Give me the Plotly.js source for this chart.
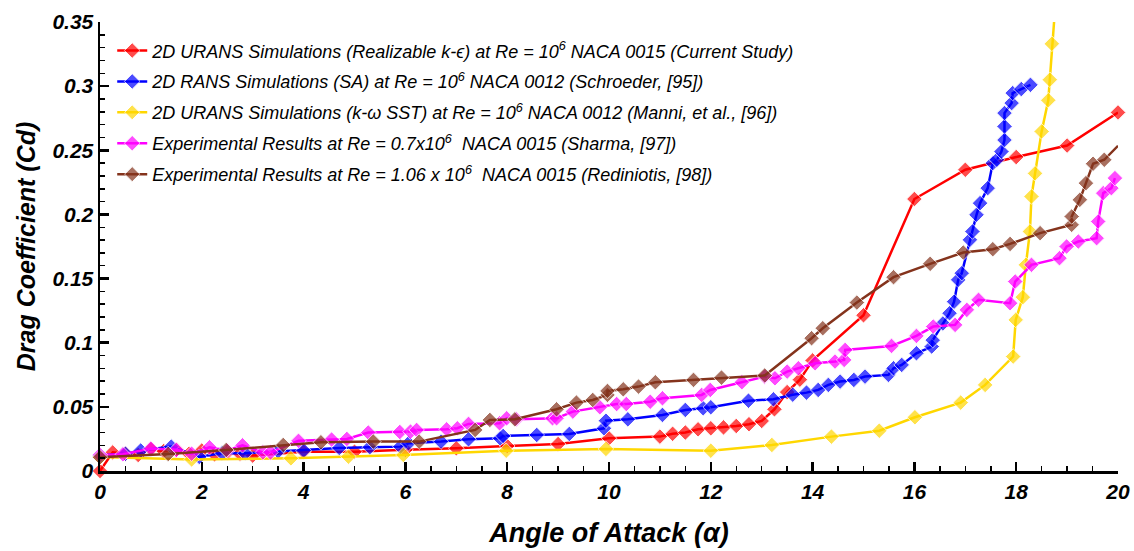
<!DOCTYPE html>
<html><head><meta charset="utf-8">
<script src="https://cdn.plot.ly/plotly-3.0.1.min.js"></script>
<style>body{margin:0;background:#fff}#c{width:1134px;height:551px}</style>
</head><body><div id="c"></div>
<script>
const names = [
  "2D URANS Simulations (Realizable k-ϵ) at Re = 10<sup>6</sup> NACA 0015 (Current Study)",
  "2D RANS Simulations (SA) at Re = 10<sup>6</sup> NACA 0012 (Schroeder, [95])",
  "2D URANS Simulations (k-ω SST) at Re = 10<sup>6</sup> NACA 0012 (Manni, et al., [96])",
  "Experimental Results at Re = 0.7x10<sup>6</sup>  NACA 0015 (Sharma, [97])",
  "Experimental Results at Re = 1.06 x 10<sup>6</sup>  NACA 0015 (Rediniotis, [98])"
];
const colors = ["#ff0000", "#0000ff", "#ffd700", "#ff00ff", "#84331c"];

const redX = [0,0.25,0.5,0.75,1.0,1.25,1.5,1.75,2.0,2.25,2.5,2.75,3,4,5,6,7,8,9,10,11,11.25,11.5,11.75,12,12.25,12.5,12.75,13,13.25,13.5,13.75,14,15,16,17,18,19,20];
const redY = [0,0.0145,0.0135,0.0125,0.017,0.0155,0.0165,0.0135,0.016,0.013,0.0145,0.0135,0.012,0.015,0.015,0.0165,0.0177,0.0195,0.021,0.0255,0.0268,0.029,0.030,0.0325,0.0333,0.034,0.0351,0.0365,0.039,0.0481,0.0615,0.0712,0.0862,0.1214,0.212,0.2348,0.2447,0.2537,0.2795];

const blueX = [0,0.5,0.8,1.4,1.95,2.4,2.85,3.5,4.0,4.7,5.3,5.9,6.06,6.7,7.24,7.86,7.92,8.58,9.22,9.9,9.94,10.37,11.05,11.5,11.85,12.0,12.74,13.23,13.61,13.88,14.11,14.31,14.54,14.81,15.03,15.49,15.59,15.75,16.04,16.34,16.36,16.56,16.69,16.78,16.86,16.93,17.09,17.14,17.22,17.29,17.44,17.54,17.62,17.71,17.77,17.77,17.77,17.91,17.93,18.1,18.28];
const blueY = [0.012,0.0135,0.016,0.019,0.011,0.014,0.0138,0.0153,0.016,0.018,0.0185,0.019,0.0216,0.0229,0.0247,0.0255,0.0273,0.0281,0.0289,0.0333,0.0392,0.0403,0.0437,0.0476,0.0489,0.0497,0.0548,0.0559,0.0595,0.0611,0.0632,0.0671,0.0697,0.071,0.0736,0.0749,0.0801,0.0827,0.0918,0.097,0.102,0.115,0.123,0.132,0.149,0.1542,0.1802,0.1867,0.1997,0.2088,0.2205,0.24,0.2426,0.249,0.258,0.2686,0.279,0.2868,0.2946,0.2977,0.301];

const yelX = [0,1.8,3.75,4.88,5.96,7.98,9.94,12.0,13.2,14.37,15.31,16.01,16.91,17.39,17.94,17.99,18.13,18.19,18.27,18.3,18.37,18.5,18.63,18.66,18.7,18.8];
const yelY = [0.011,0.009,0.0099,0.0112,0.0125,0.0158,0.0172,0.0158,0.0203,0.0268,0.0314,0.0419,0.0533,0.0671,0.0892,0.1178,0.1355,0.1607,0.1867,0.214,0.232,0.2647,0.289,0.305,0.333,0.38];

const magX = [0,0.45,1.0,1.5,1.8,2.15,2.5,2.8,3.2,3.35,3.9,4.55,4.85,5.27,5.89,6.1,6.22,6.81,7.02,7.24,7.85,7.99,8.18,8.89,8.97,9.29,9.82,10.15,10.34,10.81,11.05,11.82,11.99,12.61,13.06,13.26,13.5,13.72,14.05,14.44,14.62,14.64,15.55,16.04,16.37,16.8,17.03,17.26,17.88,17.98,18.3,18.85,18.99,19.22,19.58,19.61,19.71,19.87,19.94];
const magY = [0.0125,0.013,0.0175,0.0165,0.0135,0.0185,0.016,0.02,0.0145,0.0145,0.0235,0.0245,0.025,0.03,0.0304,0.0307,0.032,0.0325,0.0333,0.0367,0.0372,0.0411,0.0403,0.0411,0.0411,0.0463,0.0497,0.0522,0.0522,0.054,0.0567,0.0593,0.0632,0.0692,0.0736,0.0723,0.0775,0.0801,0.084,0.0853,0.0866,0.0944,0.0975,0.1053,0.1126,0.1139,0.1256,0.1334,0.1308,0.1477,0.1607,0.1659,0.175,0.1789,0.1815,0.1945,0.2166,0.2205,0.2283];

const brnX = [0,1.34,2.48,3.6,4.34,5.37,6.27,7.37,7.66,8.15,8.97,9.36,9.68,9.97,9.97,10.28,10.58,10.91,11.66,12.21,13.06,13.98,14.2,14.87,15.59,16.31,16.96,17.54,17.88,18.47,19.09,19.09,19.25,19.37,19.51,19.73,20];
const brnY = [0.0107,0.0133,0.0164,0.0203,0.0224,0.0229,0.0229,0.032,0.0398,0.0403,0.0481,0.0533,0.0554,0.0593,0.0624,0.0637,0.0658,0.0692,0.071,0.0728,0.0745,0.1035,0.1113,0.1313,0.1511,0.1615,0.1703,0.1729,0.177,0.1854,0.1919,0.1984,0.2114,0.2244,0.2395,0.2426,0.2535];

const xs = [redX, blueX, yelX, magX, brnX];
const ys = [redY, blueY, yelY, magY, brnY];

const traces = xs.map((x, i) => {
  const sizes = x.map(() => 12);
  if (i === 2) sizes[sizes.length - 1] = 0;
  if (i === 4) sizes[sizes.length - 1] = 0;
  return {
    x: x, y: ys[i], name: names[i], type: 'scatter', mode: 'lines+markers',
    legendgroup: 'g' + i,
    line: {color: colors[i], width: 2.5},
    marker: {symbol: 'diamond', size: sizes, color: colors[i]},
    cliponaxis: false
  };
});

const F = "'Liberation Sans', Arial, sans-serif";
const layout = {
  width: 1134, height: 551,
  margin: {l: 100, r: 16, t: 22, b: 80},
  paper_bgcolor: '#fff', plot_bgcolor: '#fff',
  showlegend: true,
  legend: {
    x: 0.012, y: 0.977, xanchor: 'left', yanchor: 'top',
    bgcolor: 'rgba(0,0,0,0)',
    font: {family: F, size: 18, style: 'italic', color: '#000'},
    tracegroupgap: 4.5
  },
  xaxis: {
    range: [0, 20], dtick: 2, tick0: 0,
    showgrid: false, zeroline: false,
    showline: true, linecolor: '#000', linewidth: 2.5,
    ticks: 'inside', ticklen: 9, tickwidth: 2.5, tickcolor: '#000',
    minor: {dtick: 0.5, ticks: 'inside', ticklen: 5, tickwidth: 1.5, tickcolor: '#000', showgrid: false},
    tickfont: {family: F, size: 21, weight: 'bold', style: 'italic', color: '#000'},
    title: {text: 'Angle of Attack (<i>α</i>)', font: {family: F, size: 27, weight: 'bold', style: 'italic', color: '#000'}, standoff: 22}
  },
  yaxis: {
    range: [0, 0.35], dtick: 0.05, tick0: 0,
    showgrid: false, zeroline: false,
    showline: true, linecolor: '#000', linewidth: 2.5,
    ticks: 'inside', ticklen: 9, tickwidth: 2.5, tickcolor: '#000',
    minor: {dtick: 0.01, ticks: 'inside', ticklen: 5, tickwidth: 1.5, tickcolor: '#000', showgrid: false},
    tickfont: {family: F, size: 21, weight: 'bold', style: 'italic', color: '#000'},
    title: {text: 'Drag Coefficient (Cd)', font: {family: F, size: 25, weight: 'bold', style: 'italic', color: '#000'}, standoff: 10}
  }
};
Plotly.newPlot('c', traces, layout, {displayModeBar: false, staticPlot: true});
</script></body></html>
